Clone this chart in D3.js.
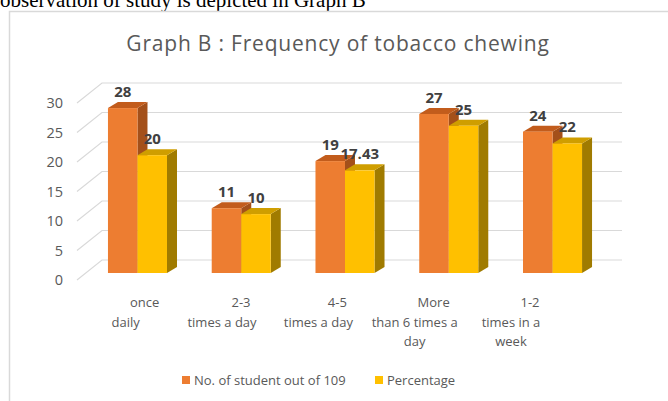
<!DOCTYPE html>
<html>
<head>
<meta charset="utf-8">
<script src="https://cdn.jsdelivr.net/npm/d3@7"></script>
<style>
  html, body { margin: 0; padding: 0; background: #ffffff; }
  svg { display: block; }
</style>
</head>
<body>
<script>
// Frequency of tobacco chewing among students
const categories = ["once daily", "2-3 times a day", "4-5 times a day", "More than 6 times a day", "1-2 times in a week"];
const categoryLines = [
  ["once", "daily"],
  ["2-3", "times a day"],
  ["4-5", "times a day"],
  ["More", "than 6 times a", "day"],
  ["1-2", "times in a", "week"]
];
const seriesNames = ["No. of student out of 109", "Percentage"];
const students = [28, 11, 19, 27, 24];
const percentage = [20, 10, 17.43, 25, 22];
const yTicks = [0, 5, 10, 15, 20, 25, 30];

const W = 668, H = 401;
const FONT = "'Open Sans', Lato, sans-serif";
const palette = {
  front: ["#ED7D31", "#FFC000"],
  top:   ["#C25C1C", "#CF9E00"],
  side:  ["#A4501A", "#A07B00"]
};

const svg = d3.select("body").append("svg")
  .attr("width", W).attr("height", H);

// Caption line from the surrounding document, partly cut off at the top
svg.append("text")
  .attr("x", 0).attr("y", 7)
  .attr("font-family", "'Liberation Serif', 'Times New Roman', serif")
  .attr("font-size", 21)
  .attr("fill", "#000")
  .text("observation of study is depicted in Graph B");

// Chart frame
svg.append("path")
  .attr("d", "M9.5,401 V11.5 H668")
  .attr("fill", "none").attr("stroke", "#d9d9d9").attr("stroke-width", 1.5);

// Title
svg.append("text")
  .attr("x", 338).attr("y", 51)
  .attr("text-anchor", "middle")
  .attr("font-family", FONT)
  .attr("font-size", 21)
  .attr("letter-spacing", 0.8)
  .attr("fill", "#595959")
  .text("Graph B : Frequency of tobacco chewing");

// Scales: front plane of the bars, and the front / back edges of the walls
const x = d3.scaleBand().domain(categories)
  .range([85.6, 604.4]).paddingInner(0.431).paddingOuter(0.2155);
const xs = d3.scaleBand().domain(seriesNames).range([0, x.bandwidth()]);
const yBar = d3.scaleLinear().domain([0, 30]).range([273, 96.3]);
const yWallFront = d3.scaleLinear().domain([0, 30]).range([280, 103]);
const yWallBack = d3.scaleLinear().domain([0, 30]).range([260, 83]);
const wallFrontX = 77, wallBackX = 102, wallRightX = 622;
const depth = { dx: 10, dy: -6 };

// Gridlines on the side wall and the back wall
const grid = svg.append("g").attr("stroke", "#d9d9d9").attr("stroke-width", 1.2).attr("fill", "none");
grid.selectAll("path").data(yTicks).join("path")
  .attr("d", v => `M${wallFrontX},${yWallFront(v)} L${wallBackX},${yWallBack(v)} L${wallRightX},${yWallBack(v)}`);

// Y tick labels
svg.append("g").selectAll("text").data(yTicks).join("text")
  .attr("x", 63).attr("y", v => yWallFront(v))
  .attr("dy", "0.35em")
  .attr("text-anchor", "end")
  .attr("font-family", FONT)
  .attr("font-size", 14.5)
  .attr("fill", "#595959")
  .text(v => v);

// 3D bars
const rows = categories.map((c, i) => ({ cat: c, values: [students[i], percentage[i]] }));
const bars = svg.append("g");
rows.forEach(r => {
  r.values.forEach((v, s) => {
    const x0 = x(r.cat) + xs(seriesNames[s]);
    const x1 = x0 + xs.bandwidth();
    const yt = yBar(v), yb = yBar(0);
    const { dx, dy } = depth;
    const g = bars.append("g");
    g.append("path").attr("fill", palette.side[s])
      .attr("d", `M${x1},${yt} L${x1 + dx},${yt + dy} L${x1 + dx},${yb + dy} L${x1},${yb} Z`);
    g.append("path").attr("fill", palette.top[s])
      .attr("d", `M${x0},${yt} L${x0 + dx},${yt + dy} L${x1 + dx},${yt + dy} L${x1},${yt} Z`);
    g.append("rect").attr("fill", palette.front[s])
      .attr("x", x0).attr("y", yt).attr("width", x1 - x0).attr("height", yb - yt);
  });
});

// Value labels
const labels = svg.append("g")
  .attr("font-family", FONT)
  .attr("font-weight", "bold")
  .attr("font-size", 15)
  .attr("fill", "#404040")
  .attr("text-anchor", "middle");
rows.forEach(r => {
  r.values.forEach((v, s) => {
    labels.append("text")
      .attr("x", x(r.cat) + xs(seriesNames[s]) + xs.bandwidth() / 2)
      .attr("y", yBar(v) - 11)
      .text(v);
  });
});

// Category labels along the front edge of the floor
const xLabel = d3.scalePoint().domain(categories).range([125.7, 511]);
const catG = svg.append("g")
  .attr("font-family", FONT)
  .attr("font-size", 13)
  .attr("fill", "#595959")
  .attr("text-anchor", "middle");
categories.forEach((c, i) => {
  categoryLines[i].forEach((line, j) => {
    catG.append("text")
      .attr("x", xLabel(c) + (j === 0 ? 19 : 0))
      .attr("y", 302.5 + j * 19.5)
      .attr("dy", "0.35em")
      .text(line);
  });
});

// Legend
const legend = svg.append("g")
  .attr("font-family", FONT)
  .attr("font-size", 13)
  .attr("fill", "#595959");
const legendX = [182, 375];
seriesNames.forEach((name, s) => {
  legend.append("rect")
    .attr("x", legendX[s]).attr("y", 376)
    .attr("width", 8).attr("height", 8)
    .attr("fill", palette.front[s]);
  legend.append("text")
    .attr("x", legendX[s] + 12).attr("y", 380)
    .attr("dy", "0.35em")
    .text(name);
});
</script>
</body>
</html>
